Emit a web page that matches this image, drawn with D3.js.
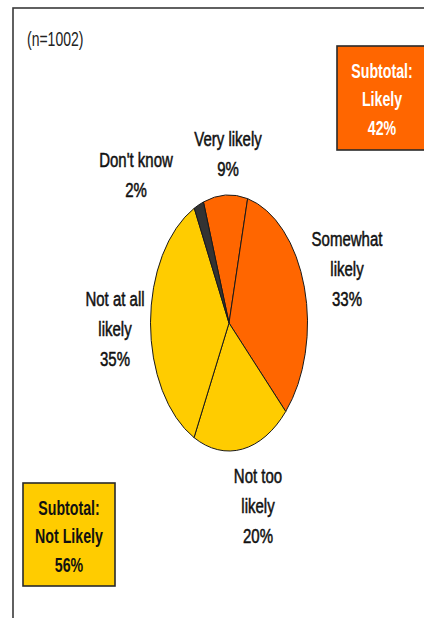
<!DOCTYPE html>
<html>
<head>
<meta charset="utf-8">
<script src="https://cdn.jsdelivr.net/npm/d3@7"></script>
<style>
  html, body { margin: 0; padding: 0; background: #fff; }
  svg { display: block; }
  text { font-family: "Liberation Sans", Arial, sans-serif; }
</style>
</head>
<body>
<svg id="chart" width="424" height="618"></svg>
<script>
// Survey responses (n=1002), in pie order starting just left of 12 o'clock
const categories = ["Very likely", "Somewhat likely", "Not too likely", "Not at all likely", "Don't know"];
const values = [9, 33, 20, 35, 2];
const labelLines = [
  ["Very likely", "9%"],
  ["Somewhat", "likely", "33%"],
  ["Not too", "likely", "20%"],
  ["Not at all", "likely", "35%"],
  ["Don't know", "2%"]
];
const sampleNote = "(n=1002)";
const subtotalLikely = ["Subtotal:", "Likely", "42%"];
const subtotalNotLikely = ["Subtotal:", "Not Likely", "56%"];

// Layout
const W = 424, H = 618;
const cx = 229, cy = 323, rx = 78.5, ry = 128;
const startDeg = -19;
const sliceColor = d3.scaleOrdinal()
  .domain(categories)
  .range(["#FF6600", "#FF6600", "#FFCC00", "#FFCC00", "#333333"]);
// label anchors (centre x, first baseline y)
const labelAnchor = [
  [228, 146], [347, 246], [258, 483], [115, 306], [136, 167]
];
const lineGap = 30;

const svg = d3.select("#chart");

// tall, condensed-looking multi-line text block
function textBlock(parent, x, y, lines, opts) {
  const sy = opts.sy;
  const t = parent.append("text")
    .attr("transform", `translate(${x},${y}) scale(1,${sy})`)
    .attr("text-anchor", opts.anchor || "middle")
    .attr("font-size", opts.size)
    .attr("font-weight", opts.weight || "normal")
    .attr("fill", opts.fill)
    .attr("stroke", opts.fill)
    .attr("stroke-width", opts.stroke || 0)
    .attr("vector-effect", "non-scaling-stroke");
  lines.forEach((s, j) => {
    t.append("tspan").attr("x", 0).attr("y", j * opts.gap / sy).text(s);
  });
  return t;
}

// chart frame (extends past the visible window on the right and bottom)
svg.append("rect")
  .attr("x", 13).attr("y", 8)
  .attr("width", W + 20).attr("height", H + 20)
  .attr("fill", "#fff")
  .attr("stroke", "#3a3a3a")
  .attr("stroke-width", 1.6);

// pie, drawn on a unit circle and stretched into an ellipse
const pie = d3.pie().sort(null).value(d => d)
  .startAngle(startDeg * Math.PI / 180)
  .endAngle(startDeg * Math.PI / 180 + 2 * Math.PI);
const arcs = pie(values);
const R = 100;
const arc = d3.arc().innerRadius(0).outerRadius(R);

const pieG = svg.append("g")
  .attr("transform", `translate(${cx},${cy}) scale(${rx / R},${ry / R})`);
pieG.selectAll("path")
  .data(arcs)
  .join("path")
  .attr("d", arc)
  .attr("fill", (d, i) => sliceColor(categories[i]))
  .attr("stroke", "#1a1a1a")
  .attr("stroke-width", 1)
  .attr("vector-effect", "non-scaling-stroke");

// slice labels
const labG = svg.append("g");
labelLines.forEach((lines, i) => {
  const [x, y] = labelAnchor[i];
  textBlock(labG, x, y, lines, { size: 15, sy: 1.3, gap: lineGap, fill: "#111", stroke: 0.4 });
});

// sample size note
textBlock(svg, 27, 46, [sampleNote], { size: 14, sy: 1.4, gap: 0, fill: "#222", anchor: "start" });

// subtotal boxes
function subtotalBox(x, y, w, h, fill, textFill, lines, firstBase) {
  svg.append("rect")
    .attr("x", x).attr("y", y).attr("width", w).attr("height", h)
    .attr("fill", fill)
    .attr("stroke", "#2a2a2a")
    .attr("stroke-width", 1.6);
  textBlock(svg, x + w / 2, firstBase, lines,
    { size: 14.2, sy: 1.38, gap: 28.5, fill: textFill, weight: "bold" });
}
subtotalBox(337, 46, 90, 104, sliceColor(categories[0]), "#fff", subtotalLikely, 78);
subtotalBox(23, 483, 92, 103, sliceColor(categories[2]), "#111", subtotalNotLikely, 515);
</script>
</body>
</html>
